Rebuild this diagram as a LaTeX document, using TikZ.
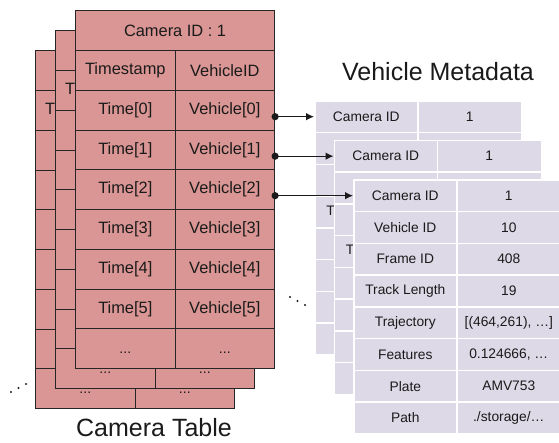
\documentclass[tikz,border=0pt]{standalone}
\usepackage{fontspec}
\setmainfont{Liberation Sans}
\usetikzlibrary{arrows.meta}
\definecolor{campink}{HTML}{D99694}
\definecolor{metalav}{HTML}{DED9E7}
\definecolor{ink}{HTML}{1A1A1A}
\newcommand\camdots{\fontsize{14}{16}\selectfont}
\tikzset{
  camcell/.style={draw=black!85, line width=1.1pt, fill=campink, minimum width=99.5pt,
    minimum height=39.75pt, anchor=north west, inner sep=0pt, text=ink,
    font=\fontsize{16.4}{19}\selectfont},
  dotcell/.style={camcell, font=\camdots, text height=10pt, text depth=0pt},
  metacell/.style={draw=white, line width=1.6pt, fill=metalav, minimum height=31.75pt,
    anchor=north west, inner sep=0pt, text=ink, font=\fontsize{13.8}{16}\selectfont},
  conn/.style={draw=ink, line width=1pt, -{Latex[length=8pt,width=7.5pt]}},
  title/.style={text=ink, font=\fontsize{25}{30}\selectfont, inner sep=0pt},
}
\newcommand\camtab[3]{%
  \node[camcell, minimum width=199pt, minimum height=40pt] (cam#3h) at (#1,#2) {Camera ID : 1};
  \foreach \a/\b [count=\i] in {Timestamp/VehicleID,Time[0]/Vehicle[0],Time[1]/Vehicle[1],Time[2]/Vehicle[2],Time[3]/Vehicle[3],Time[4]/Vehicle[4],Time[5]/Vehicle[5]}{
    \node[camcell] (cam#3r\i-a) at (#1,{#2+40+39.75*(\i-1)}) {\a};
    \node[camcell] (cam#3r\i-b) at ({#1+99.5},{#2+40+39.75*(\i-1)}) {\b};
  }
  \node[dotcell] (cam#3r8-a) at (#1,{#2+40+39.75*7}) {...};
  \node[dotcell] (cam#3r8-b) at ({#1+99.5},{#2+40+39.75*7}) {...};
}
\newcommand\metarow[6]{%
  \node[metacell, minimum width=103pt] (meta#3r#4-a) at (#1,{#2+31.75*(#4-1)}) {#5};
  \node[metacell, minimum width=104pt] (meta#3r#4-b) at ({#1+103},{#2+31.75*(#4-1)}) {#6};
}
\newcommand\metatab[3]{%
  \metarow{#1}{#2}{#3}{1}{Camera ID}{1}
  \metarow{#1}{#2}{#3}{2}{Vehicle ID}{10}
  \metarow{#1}{#2}{#3}{3}{Frame ID}{408}
  \metarow{#1}{#2}{#3}{4}{Track Length}{19}
  \metarow{#1}{#2}{#3}{5}{Trajectory}{[(464,261), …]}
  \metarow{#1}{#2}{#3}{6}{Features}{0.124666, …}
  \metarow{#1}{#2}{#3}{7}{Plate}{AMV753}
  \metarow{#1}{#2}{#3}{8}{Path}{./storage/…}
}
\begin{document}
\begin{tikzpicture}[x=1pt,y=-1pt]
\useasboundingbox (0,0) rectangle (559,442);
% camera tables (back to front)
\camtab{35}{50}{0}
\camtab{55}{30}{1}
\camtab{75}{10}{2}
% vehicle metadata tables (back to front)
\metatab{314}{100}{0}
\metatab{333.5}{139.5}{1}
\metatab{353}{179}{2}
% titles
\node[title] (vmtitle) at (438,72) {Vehicle Metadata};
\node[title] (cttitle) at (154,428) {Camera Table};
% connectors
\coordinate (s0) at (cam2r2-b.east |- meta0r1-a.west);
\coordinate (s1) at (cam2r3-b.east |- meta1r1-a.west);
\coordinate (s2) at (cam2r4-b.east |- meta2r1-a.west);
\draw[conn] (s0) -- (meta0r1-a.west);
\draw[conn] (s1) -- (meta1r1-a.west);
\draw[conn] (s2) -- (meta2r1-a.west);
\fill[ink] (s0) circle (3.6pt);
\fill[ink] (s1) circle (3.6pt);
\fill[ink] (s2) circle (3.6pt);
% ellipsis dots
\fill[ink] (11,392) circle (1.1pt);
\fill[ink] (18.5,388) circle (1.1pt);
\fill[ink] (26,384) circle (1.1pt);
\fill[ink] (290,297) circle (1.1pt);
\fill[ink] (297.5,301) circle (1.1pt);
\fill[ink] (305,305) circle (1.1pt);
\end{tikzpicture}
\end{document}
